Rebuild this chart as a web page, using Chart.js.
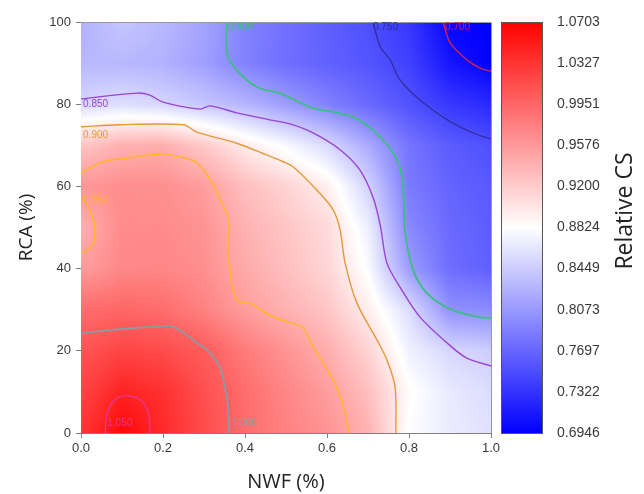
<!DOCTYPE html>
<html><head><meta charset="utf-8">
<script src="https://cdn.jsdelivr.net/npm/chart.js@4/dist/chart.umd.min.js"></script>
<style>html,body{margin:0;padding:0;background:#fff}#wrap{width:644px;height:494px;position:relative}</style>
</head><body><div id="wrap"><canvas id="c" width="644" height="494"></canvas></div>
<script>
// ---- data ----
const xGrid = [0, 0.1, 0.2, 0.3, 0.4, 0.5, 0.6, 0.7, 0.8, 0.9, 1.0];        // NWF
const yGrid = [0, 10, 20, 30, 40, 50, 60, 70, 80, 90, 100];                   // RCA
// relative CS, one row per RCA value (yGrid), columns follow xGrid
const relCS = [
  [1.030,1.065,1.040,1.015,0.990,0.975,0.962,0.940,0.881,0.868,0.860],
  [1.020,1.045,1.035,1.012,0.990,0.972,0.955,0.930,0.885,0.866,0.857],
  [1.008,1.020,1.015,1.003,0.980,0.962,0.943,0.915,0.872,0.853,0.846],
  [0.990,0.995,0.990,0.975,0.955,0.940,0.925,0.895,0.857,0.801,0.797],
  [0.955,0.970,0.972,0.965,0.945,0.930,0.913,0.880,0.810,0.775,0.765],
  [0.940,0.968,0.968,0.962,0.940,0.925,0.910,0.870,0.795,0.772,0.763],
  [0.960,0.966,0.965,0.955,0.930,0.915,0.895,0.850,0.785,0.768,0.760],
  [0.925,0.940,0.942,0.922,0.897,0.878,0.855,0.820,0.780,0.762,0.753],
  [0.853,0.858,0.852,0.840,0.828,0.810,0.790,0.772,0.755,0.735,0.725],
  [0.830,0.830,0.825,0.812,0.790,0.776,0.766,0.757,0.742,0.710,0.695],
  [0.825,0.840,0.830,0.815,0.790,0.777,0.765,0.752,0.735,0.698,0.6946]
];
const xTickValues = [0, 0.2, 0.4, 0.6, 0.8, 1.0];
const xTickLabels = ['0.0','0.2','0.4','0.6','0.8','1.0'];
const yTickValues = [0, 20, 40, 60, 80, 100];
const yTickLabels = ['0','20','40','60','80','100'];
const cbTickValues = [1.0703,1.0327,0.9951,0.9576,0.9200,0.8824,0.8449,0.8073,0.7697,0.7322,0.6946];
const cbTickLabels = ['1.0703','1.0327','0.9951','0.9576','0.9200','0.8824','0.8449','0.8073','0.7697','0.7322','0.6946'];

// contour lines, [NWF, RCA] points
const contour1050 = [[0.059,0],[0.062,4],[0.075,7.3],[0.095,8.8],[0.115,9],[0.14,8.4],[0.158,6.5],[0.167,3.5],[0.168,0]];
const contour1000 = [[0,24.3],[0.1,25.3],[0.217,26],[0.241,25],[0.283,21.9],[0.315,19.5],[0.339,16],[0.351,11.2],[0.359,6.3],[0.36,0]];
const contour0950 = [[0,63.3],[0.054,66],[0.137,67.2],[0.193,67.9],[0.241,67.2],[0.283,65.7],[0.32,60.8],[0.351,54.3],[0.36,51.8],[0.363,39.7],[0.38,32.4],[0.412,31.6],[0.46,28.7],[0.51,26.8],[0.54,25.8],[0.566,21],[0.615,12.9],[0.64,6.3],[0.654,0]];
const contour0950b = [[0,57.4],[0.015,55.5],[0.03,52],[0.034,49],[0.03,46],[0.02,44.8],[0,43.8]];
const contour0900 = [[0,74.5],[0.095,75],[0.25,75],[0.283,73.2],[0.38,70.5],[0.444,68],[0.493,66],[0.518,64.7],[0.575,59.1],[0.615,54.3],[0.632,49.4],[0.644,41.4],[0.673,31.6],[0.722,22.6],[0.746,17.8],[0.766,11.2],[0.768,0]];
const contour0850 = [[0,81.3],[0.137,82.7],[0.168,82.2],[0.2,80.5],[0.29,78.8],[0.315,79.6],[0.38,77.9],[0.46,76.2],[0.51,75.2],[0.566,73],[0.632,68.9],[0.68,64],[0.712,57.4],[0.73,50.5],[0.746,41.4],[0.778,35.5],[0.827,28.2],[0.893,21.9],[0.941,18.2],[1.0,16.3]];
const contour0800 = [[0.356,100],[0.356,92.5],[0.38,88.3],[0.429,84.2],[0.49,82.5],[0.559,79.3],[0.663,76.9],[0.73,72],[0.771,66.4],[0.785,60.8],[0.79,49.4],[0.81,39.7],[0.844,34],[0.907,29.9],[0.973,28.2],[1.0,28]];
const contour0750 = [[0.712,100],[0.73,94],[0.754,90.8],[0.778,85.9],[0.827,81],[0.893,76.2],[0.956,73],[1.0,71.5]];
const contour0700 = [[0.883,100],[0.9,95],[0.941,90.8],[0.973,88.8],[1.0,88]];

// contour label anchors (text, NWF, RCA)
const contourLabels = [
  ['0.800',0.359,98.8,'#3cbf80'],['0.750',0.712,98.8,'#2d2d96'],['0.700',0.888,98.8,'#d8204e'],
  ['0.850',0.005,80.0,'#9a44d6'],['0.900',0.005,72.5,'#e39a3b'],['0.950',0.005,56.7,'#ffb52e'],
  ['1.050',0.064,2.4,'#e8338f'],['1.000',0.368,2.4,'#8c9aa6']
];

// ---- helpers ----
function interp(xv, yv){
  let i = 0; while (i < xGrid.length-2 && xv > xGrid[i+1]) i++;
  let j = 0; while (j < yGrid.length-2 && yv > yGrid[j+1]) j++;
  let tx = (xv - xGrid[i])/(xGrid[i+1]-xGrid[i]); tx = Math.max(0, Math.min(1, tx));
  let ty = (yv - yGrid[j])/(yGrid[j+1]-yGrid[j]); ty = Math.max(0, Math.min(1, ty));
  const a = relCS[j][i], b = relCS[j][i+1], c = relCS[j+1][i], d = relCS[j+1][i+1];
  return (a*(1-tx)+b*tx)*(1-ty) + (c*(1-tx)+d*tx)*ty;
}
function colorFor(v){
  const hi = cbTickValues[0], lo = cbTickValues[cbTickValues.length-1], mid = cbTickValues[5];
  if (v >= mid){ const t = Math.min(1,(v-mid)/(hi-mid)); const g = Math.round(255*(1-t)); return [255,g,g]; }
  const t = Math.min(1,(mid-v)/(mid-lo)); const g = Math.round(255*(1-t)); return [g,g,255];
}
const pts = arr => arr.map(p => ({x:p[0], y:p[1]}));
function line(label, arr, color, width){
  return {label, data: pts(arr), showLine:true, borderColor:color, backgroundColor:color,
          borderWidth: width||1.4, pointRadius:0, tension:0.3, fill:false};
}

const heatPlugin = {
  id:'heat',
  beforeDatasetsDraw(chart){
    const {ctx, chartArea:a, scales} = chart;
    const xs = scales.x, ys = scales.y, cb = scales.cb;
    const w = Math.round(a.right - a.left), h = Math.round(a.bottom - a.top);
    const off = document.createElement('canvas'); off.width = w; off.height = h;
    const octx = off.getContext('2d'); const img = octx.createImageData(w, h);
    for (let r = 0; r < h; r++){
      const yv = ys.getValueForPixel(a.top + r + 0.5);
      for (let c = 0; c < w; c++){
        const xv = xs.getValueForPixel(a.left + c + 0.5);
        const col = colorFor(interp(xv, yv));
        const k = (r*w + c)*4;
        img.data[k]=col[0]; img.data[k+1]=col[1]; img.data[k+2]=col[2]; img.data[k+3]=255;
      }
    }
    octx.putImageData(img, 0, 0);
    ctx.drawImage(off, a.left, a.top);
    // colour bar
    const bx = a.right + 10, bw = 41;
    const t0 = Math.round(cb.getPixelForValue(cbTickValues[0])), t1 = Math.round(cb.getPixelForValue(cbTickValues[cbTickValues.length-1]));
    for (let py = t0; py < t1; py++){
      const col = colorFor(cb.getValueForPixel(py + 0.5));
      ctx.fillStyle = 'rgb('+col.join(',')+')';
      ctx.fillRect(bx, py, bw, 1);
    }
    ctx.save(); ctx.strokeStyle = '#555'; ctx.lineWidth = 1;
    ctx.strokeRect(bx + 0.5, t0 + 0.5, bw, t1 - t0);
    ctx.restore();
  },
  afterDatasetsDraw(chart){
    const {ctx, chartArea:a, scales:{x, y}} = chart;
    ctx.save();
    ctx.strokeStyle = '#9a9a9a'; ctx.lineWidth = 1;
    ctx.beginPath();
    ctx.moveTo(a.left, a.top + 0.5); ctx.lineTo(a.right + 0.5, a.top + 0.5); ctx.lineTo(a.right + 0.5, a.bottom);
    ctx.stroke();
    ctx.font = '10px "Liberation Sans", Arial, sans-serif';
    ctx.textAlign = 'left'; ctx.textBaseline = 'middle';
    contourLabels.forEach(l => {
      ctx.fillStyle = l[3];
      ctx.fillText(l[0], x.getPixelForValue(l[1]), y.getPixelForValue(l[2]));
    });
    ctx.restore();
  },
  afterDraw(chart){
    const {ctx} = chart;
    ctx.save();
    ctx.translate(625, 211); ctx.rotate(-Math.PI/2);
    ctx.font = '23px "Open Sans", sans-serif'; ctx.fillStyle = '#222';
    ctx.textAlign = 'center'; ctx.textBaseline = 'middle';
    ctx.fillText('Relative CS', 0, 0);
    ctx.restore();
  }
};

const tickFont = {family:'"Liberation Sans", Arial, sans-serif', size:13};
new Chart(document.getElementById('c'), {
  type:'scatter',
  data:{ datasets:[
    line('1.050', contour1050, '#e8338f'),
    line('1.000', contour1000, '#8c9aa6', 1.8),
    line('0.950', contour0950, '#ffb52e', 1.6),
    line('0.950', contour0950b, '#ffb52e', 1.6),
    line('0.900', contour0900, '#e39a3b'),
    line('0.850', contour0850, '#9a44d6'),
    line('0.800', contour0800, '#3cbf80', 1.8),
    line('0.750', contour0750, '#2d2d96', 1.2),
    line('0.700', contour0700, '#d8204e')
  ]},
  options:{
    responsive:false, animation:false, devicePixelRatio:1,
    layout:{padding:{top:22, left:0, right:0, bottom:0}},
    plugins:{legend:{display:false}, tooltip:{enabled:false}},
    scales:{
      x:{type:'linear', position:'bottom', min:0, max:1,
        afterBuildTicks(s){ s.ticks = xTickValues.map(v => ({value:v})); },
        ticks:{callback:(v,i)=>xTickLabels[i], font:tickFont, color:'#3a3a3a', padding:3, maxRotation:0, autoSkip:false},
        grid:{drawOnChartArea:false, drawTicks:true, tickLength:5, color:'#808080'},
        border:{color:'#808080'},
        title:{display:true, text:'NWF (%)', font:{family:'"Open Sans", sans-serif', size:20, lineHeight:1.2}, color:'#222', padding:0},
        afterFit(s){ s.height = 61; s.paddingLeft = 0; s.paddingRight = 0; }
      },
      y:{type:'linear', position:'left', min:0, max:100,
        afterBuildTicks(s){ s.ticks = yTickValues.map(v => ({value:v})); },
        ticks:{callback:(v,i)=>yTickLabels[i], font:tickFont, color:'#3a3a3a', padding:5, autoSkip:false},
        grid:{drawOnChartArea:false, drawTicks:true, tickLength:5, color:'#808080'},
        border:{color:'#808080'},
        title:{display:true, text:'RCA (%)', font:{family:'"Open Sans", sans-serif', size:19, lineHeight:1.2}, color:'#222', padding:{top:15, bottom:0}},
        afterFit(s){ s.width = 81; s.paddingTop = 0; s.paddingBottom = 0; }
      },
      cb:{type:'linear', axis:'y', position:'right', min:cbTickValues[cbTickValues.length-1], max:cbTickValues[0],
        afterBuildTicks(s){ s.ticks = cbTickValues.map(v => ({value:v})); },
        ticks:{callback:(v,i)=>cbTickLabels[i], font:{family:'"Liberation Sans", Arial, sans-serif', size:14}, color:'#3a3a3a', padding:66, autoSkip:false},
        grid:{display:false, drawTicks:false, drawOnChartArea:false},
        border:{display:false},
        afterFit(s){ s.width = 153; s.paddingTop = 0; s.paddingBottom = 0; }
      }
    }
  },
  plugins:[heatPlugin]
});
</script></body></html>
